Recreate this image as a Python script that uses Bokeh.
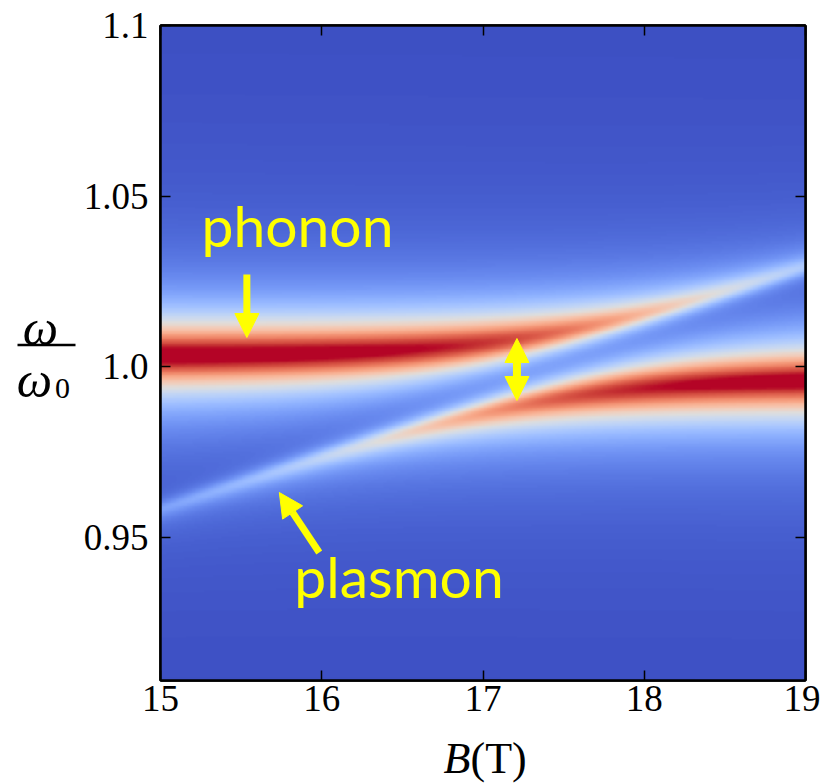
import numpy as np
from bokeh.plotting import figure
from bokeh.models import (LinearColorMapper, Label, Arrow, NormalHead,
                          LinearAxis, FixedTicker, Range1d)
from bokeh.layouts import column, row
from bokeh.core.properties import value
from bokeh.embed import file_html
from bokeh.resources import INLINE

# ---------------- data / model parameters ----------------
B_limits = [15.0, 19.0]                 # magnetic field range (T)
omega_limits = [0.908, 1.1]             # omega / omega_0 range
phonon_omega_ends = [1.0012, 0.9988]    # bare phonon at B=15 and B=19
plasmon_omega_ends = [0.9605, 1.0261]   # bare plasmon at B=15 and B=19
coupling = 0.0094
phonon_hwhm = 0.0095
plasmon_hwhm = 0.0023
colour_saturation = 0.95                # fraction of peak mapped to top colour
x_ticks = [15, 16, 17, 18, 19]
y_ticks = [0.95, 1.0, 1.05, 1.1]
y_tick_labels = ["0.95", "1.0", "1.05", "1.1"]
annotation_texts = ["phonon", "plasmon"]

# coolwarm colour table (Moreland)
coolwarm_pts = [
    (59, 76, 192), (68, 90, 204), (77, 104, 215), (87, 117, 225), (98, 130, 234),
    (108, 142, 241), (119, 154, 247), (130, 165, 251), (141, 176, 254), (152, 185, 255),
    (163, 194, 255), (174, 201, 253), (184, 208, 249), (194, 213, 244), (204, 217, 238),
    (213, 219, 230), (221, 221, 221), (229, 216, 209), (236, 211, 197), (241, 204, 185),
    (245, 196, 173), (247, 187, 160), (247, 177, 148), (247, 166, 135), (244, 154, 123),
    (241, 141, 111), (236, 127, 99), (229, 112, 88), (222, 96, 77), (213, 80, 66),
    (203, 62, 56), (192, 40, 47), (180, 4, 38)]
cw = np.array(coolwarm_pts, dtype=float)
src = np.linspace(0, 1, len(cw))
dst = np.linspace(0, 1, 256)
palette = ["#%02x%02x%02x" % tuple(int(round(np.interp(t, src, cw[:, k]))) for k in range(3))
           for t in dst]

# ---------------- spectral function of coupled phonon-plasmon ----------------
nB, nW = 400, 400
Bc = B_limits[0] + (np.arange(nB) + 0.5) * (B_limits[1] - B_limits[0]) / nB
Wc = omega_limits[0] + (np.arange(nW) + 0.5) * (omega_limits[1] - omega_limits[0]) / nW
frac = (Bc - B_limits[0]) / (B_limits[1] - B_limits[0])
w_ph = phonon_omega_ends[0] + (phonon_omega_ends[1] - phonon_omega_ends[0]) * frac
w_pl = plasmon_omega_ends[0] + (plasmon_omega_ends[1] - plasmon_omega_ends[0]) * frac
W = Wc[:, None]
d1 = W - w_ph[None, :] + 1j * phonon_hwhm
d2 = W - w_pl[None, :] + 1j * plasmon_hwhm
G11 = d2 / (d1 * d2 - coupling ** 2)
intensity = -G11.imag
intensity = np.clip(intensity / (colour_saturation * intensity.max()), 0, 1)

# ---------------- main figure ----------------
p = figure(width=740, height=728, x_range=tuple(B_limits), y_range=tuple(omega_limits),
           output_backend="svg", toolbar_location=None,
           min_border_left=79, min_border_right=15, min_border_top=25, min_border_bottom=48)
p.grid.visible = False
p.outline_line_color = "black"
p.outline_line_width = 2.5

mapper = LinearColorMapper(palette=palette, low=0.0, high=1.0)
p.image(image=[intensity], x=B_limits[0], y=omega_limits[0],
        dw=B_limits[1] - B_limits[0], dh=omega_limits[1] - omega_limits[0],
        color_mapper=mapper)

def style_axis(ax, ticks):
    ax.ticker = FixedTicker(ticks=ticks)
    ax.major_tick_in = 10
    ax.major_tick_out = 0
    ax.major_tick_line_width = 1.5
    ax.minor_tick_line_color = None
    ax.axis_line_width = 2.5
    ax.major_label_text_font = "Liberation Serif"
    ax.major_label_text_font_size = "37px"
    ax.major_label_text_color = "black"

style_axis(p.xaxis[0], x_ticks)
style_axis(p.yaxis[0], y_ticks)
p.xaxis[0].major_label_standoff = 5
p.yaxis[0].major_label_standoff = 12
p.yaxis[0].major_label_overrides = {t: s for t, s in zip(y_ticks, y_tick_labels)}

top_axis = LinearAxis()
style_axis(top_axis, x_ticks)
top_axis.major_label_overrides = {t: "" for t in x_ticks}
top_axis.major_label_standoff = 0
p.add_layout(top_axis, "above")
right_axis = LinearAxis()
style_axis(right_axis, y_ticks)
right_axis.major_label_overrides = {t: "" for t in y_ticks}
right_axis.major_label_standoff = 0
p.add_layout(right_axis, "right")

# pixel -> data helpers for annotation anchors (frame spans x 159..805, y 25..680)
def xd(px):
    return 15.0 + (px - 159.0) / 161.5

def yd(py):
    return 1.1 - (py - 25.0) / 3411.5

p.add_layout(Label(x=xd(200), y=yd(225), text=annotation_texts[0], text_font="Lato",
                   text_font_size="57px", text_color="#ffff00", text_baseline="alphabetic"))
p.add_layout(Label(x=xd(293), y=yd(576), text=annotation_texts[1], text_font="Lato",
                   text_font_size="57px", text_color="#ffff00", text_baseline="alphabetic"))

def head():
    return NormalHead(size=24, fill_color="#ffff00", line_color="#ffff00", line_width=1)

p.add_layout(Arrow(x_start=xd(245.5), y_start=yd(274), x_end=xd(245.5), y_end=yd(337),
                   line_color="#ffff00", line_width=7, end=head()))
p.add_layout(Arrow(x_start=xd(318), y_start=yd(552), x_end=xd(278), y_end=yd(492),
                   line_color="#ffff00", line_width=7, end=head()))
p.add_layout(Arrow(x_start=xd(516), y_start=yd(400), x_end=xd(516), y_end=yd(338),
                   line_color="#ffff00", line_width=8, start=head(), end=head()))

# ---------------- y-axis label strip (omega / omega_0) ----------------
def blank(width, height):
    f = figure(width=width, height=height, x_range=Range1d(0, width),
               y_range=Range1d(height, 0), output_backend="svg", toolbar_location=None,
               x_axis_location=None, y_axis_location=None, min_border=0)
    f.grid.visible = False
    f.outline_line_color = None
    return f

lf = blank(80, 728)
lf.text(x=[40], y=[336], text=["ω"], text_font=value("Liberation Serif"),
        text_font_style="italic", text_font_size="50px", text_align="center",
        text_baseline="alphabetic", text_color="black")
lf.segment(x0=[17], y0=[355], x1=[75], y1=[355], line_color="black", line_width=2.5)
lf.text(x=[34], y=[394], text=["ω"], text_font=value("Liberation Serif"),
        text_font_style="italic", text_font_size="50px", text_align="center",
        text_baseline="alphabetic", text_color="black")
lf.text(x=[62], y=[403], text=["0"], text_font=value("Liberation Serif"),
        text_font_size="30px", text_align="center", text_baseline="alphabetic",
        text_color="black")

# ---------------- x-axis label strip (B(T)) ----------------
bf = blank(820, 55)
bf.text(x=[470], y=[30], text=["B"], text_font=value("Liberation Serif"),
        text_font_style="italic", text_font_size="44px", text_align="right",
        text_baseline="alphabetic", text_color="black")
bf.text(x=[470], y=[30], text=["(T)"], text_font=value("Liberation Serif"),
        text_font_size="44px", text_align="left", text_baseline="alphabetic",
        text_color="black")

layout = column(row(lf, p), bf)
open("out.html", "w").write(file_html(layout, INLINE))
